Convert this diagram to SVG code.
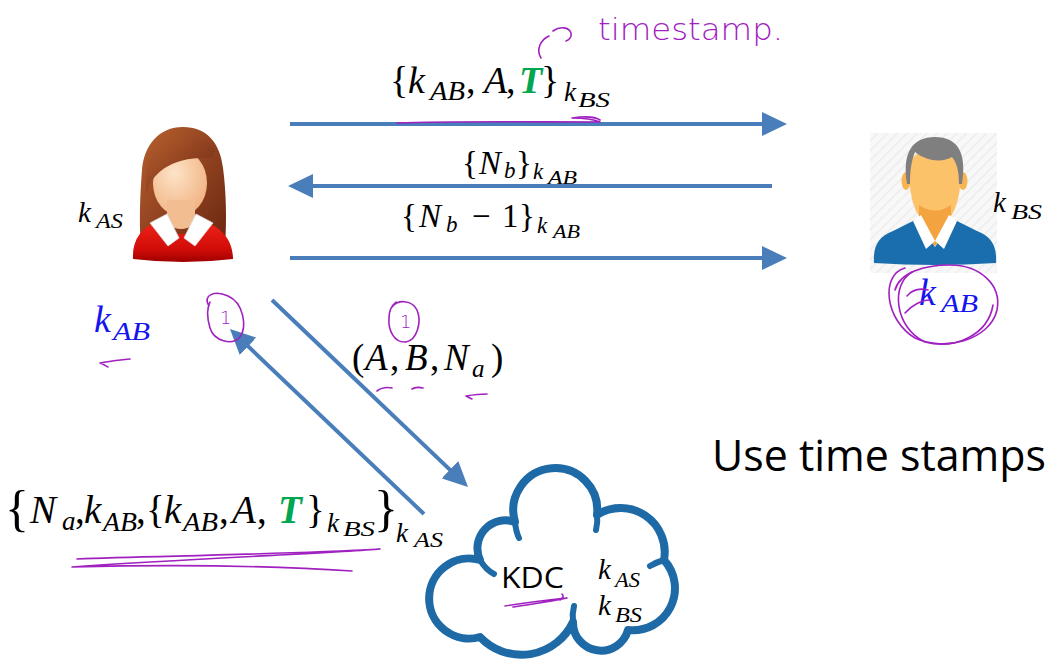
<svg xmlns="http://www.w3.org/2000/svg" width="1052" height="660" viewBox="0 0 1052 660">
  <style>
    .m { font-family: "Liberation Serif", "DejaVu Serif", serif; font-style: italic; fill: #000; }
    .r { font-style: normal; }
    .t { font-weight: bold; fill: #00a650; }
    .blue { fill: #1414f0; }
    .sans { font-family: "Open Sans", "Noto Sans", "Liberation Sans", sans-serif; fill: #000; }
    .flow { stroke: #4a7ebb; stroke-width: 4; fill: none; marker-end: url(#head); }
    .ink { stroke: #a020c0; stroke-width: 1.6; fill: none; stroke-linecap: round; stroke-linejoin: round; }
    .inktext { font-family: "DejaVu Sans", "Liberation Sans", sans-serif; font-weight: 200; fill: #a020c0; }
    .cloud { stroke: #1e6aa6; stroke-width: 8; fill: #fff; stroke-linejoin: round; }
    .curl { stroke: #1e6aa6; stroke-width: 6; fill: none; stroke-linecap: round; }
  </style>
  <defs>
    <marker id="head" viewBox="0 0 25 24" markerWidth="25" markerHeight="24" markerUnits="userSpaceOnUse" refX="15" refY="12" orient="auto">
      <path d="M0,0 L25,12 L0,24 Z" fill="#4a7ebb"/>
    </marker>
    <linearGradient id="hair" x1="0" y1="0" x2="1" y2="1">
      <stop offset="0" stop-color="#b8602f"/>
      <stop offset="1" stop-color="#6a2610"/>
    </linearGradient>
    <radialGradient id="skin" cx="0.4" cy="0.35" r="0.75">
      <stop offset="0" stop-color="#fde4c8"/>
      <stop offset="1" stop-color="#f0ae7c"/>
    </radialGradient>
    <linearGradient id="shirt" x1="0" y1="0" x2="0" y2="1">
      <stop offset="0" stop-color="#f0221a"/>
      <stop offset="0.7" stop-color="#d00c08"/>
      <stop offset="1" stop-color="#9e0000"/>
    </linearGradient>
    <pattern id="hatch" width="7" height="7" patternUnits="userSpaceOnUse" patternTransform="rotate(45)">
      <rect width="7" height="7" fill="#f8f8f8"/>
      <line x1="0" y1="0" x2="0" y2="7" stroke="#ececec" stroke-width="3"/>
    </pattern>
  </defs>

  <rect width="1052" height="660" fill="#fff"/>

  <!-- Alice -->
  <g id="alice">
    <path d="M183,127 C159,127 144,145 142,170 C140,195 139,225 141,246 L225,246 C227,220 226,190 223,168 C220,142 206,127 183,127 Z" fill="url(#hair)"/>
    <ellipse cx="180" cy="183" rx="27" ry="33" fill="url(#skin)"/>
    <path d="M167,200 L167,224 Q181,234 195,224 L195,200 Z" fill="#f3bd92"/>
    <path d="M146,196 C150,172 174,156 212,158 L215,150 C207,138 196,133 183,133 C162,133 148,150 146,175 Z" fill="url(#hair)"/>
    <path d="M133,259 C132,240 141,228 158,221 L176,234 L186,234 L204,221 C222,228 233,240 233,259 Q183,265 133,259 Z" fill="url(#shirt)"/>
    <path d="M150,223 L167,214 L179,238 L168,246 Z" fill="#fff" stroke="#ddd" stroke-width="0.8"/>
    <path d="M213,223 L196,214 L184,238 L195,246 Z" fill="#fff" stroke="#ddd" stroke-width="0.8"/>
  </g>

  <!-- Bob -->
  <g id="bob">
    <rect x="870" y="133" width="127" height="140" fill="url(#hatch)"/>
    <ellipse cx="906" cy="181" rx="4.5" ry="9" fill="#f6b552"/>
    <ellipse cx="963" cy="181" rx="4.5" ry="9" fill="#f6b552"/>
    <path d="M909,168 Q909,222 935,227 Q961,222 961,168 Q958,150 935,150 Q911,150 909,168 Z" fill="#fbc26a"/>
    <path d="M919,205 L919,233 L935,246 L951,233 L951,205 Q935,216 919,205 Z" fill="#f3a33f"/>
    <path d="M907,184 C902,153 912,137 935,137 C958,137 967,153 962,184 L959,184 C959,172 957,163 952,157 C942,163 926,161 915,152 C911,162 910,172 910,184 Z" fill="#7f7f7f"/>
    <path d="M874,263 C873,246 878,237 893,231 L915,220 L935,247 L955,220 L977,231 C992,237 997,246 996,263 Q935,267 874,263 Z" fill="#1a6eae"/>
    <path d="M913,221 L921,215 L935,241 L926,249 Z" fill="#fff"/>
    <path d="M957,221 L949,215 L935,241 L944,249 Z" fill="#fff"/>
  </g>

  <!-- KDC cloud -->
  <g id="kdc">
    <path class="cloud" d="M480,637 A40,40 0 1 1 480,560 A28,28 0 0 1 515,522 A42,42 0 1 1 597,515 A44,44 0 0 1 664,560 A42,42 0 0 1 628,630 A28,28 0 0 1 573,622 A57,57 0 0 1 480,637 Z"/>
    <path class="curl" d="M480,560 Q486,570 494,574"/>
    <path class="curl" d="M515,522 Q516,532 519,538"/>
    <path class="curl" d="M597,515 Q598,522 596,530"/>
    <path class="curl" d="M573,622 Q572,614 574,606"/>
    <path class="curl" d="M664,560 Q657,562 650,566"/>
    <text class="sans" x="501" y="588" font-size="29" textLength="63" lengthAdjust="spacingAndGlyphs">KDC</text>
    <text class="m" font-size="29"><tspan x="598" y="579">k</tspan><tspan x="615" y="587" font-size="21" textLength="25" lengthAdjust="spacingAndGlyphs">AS</tspan></text>
    <text class="m" font-size="29"><tspan x="598" y="615">k</tspan><tspan x="615" y="622" font-size="21" textLength="27" lengthAdjust="spacingAndGlyphs">BS</tspan></text>
  </g>

  <!-- message arrows -->
  <g id="connectors">
    <line class="flow" x1="290" y1="124" x2="777" y2="124"/>
    <line class="flow" x1="772" y1="186" x2="298" y2="186"/>
    <line class="flow" x1="290" y1="258" x2="777" y2="258"/>
    <line class="flow" x1="272" y1="300" x2="460.8" y2="480.1"/>
    <line class="flow" x1="424" y1="514" x2="237.2" y2="335.9"/>
  </g>

  <!-- key labels -->
  <g id="keys">
    <text class="m" font-size="29"><tspan x="78" y="222">k</tspan><tspan x="96" y="228" font-size="21" textLength="27" lengthAdjust="spacingAndGlyphs">AS</tspan></text>
    <text class="m" font-size="29"><tspan x="993" y="212">k</tspan><tspan x="1011" y="219" font-size="21" textLength="31" lengthAdjust="spacingAndGlyphs">BS</tspan></text>
    <text class="m blue" font-size="38"><tspan x="94" y="332">k</tspan><tspan x="113" y="340" font-size="26" textLength="37" lengthAdjust="spacingAndGlyphs">AB</tspan></text>
    <text class="m blue" font-size="38"><tspan x="919" y="305">k</tspan><tspan x="941" y="312" font-size="26" textLength="37" lengthAdjust="spacingAndGlyphs">AB</tspan></text>
  </g>

  <!-- message 1: {kAB, A, T}kBS -->
  <text id="msg-ticket" class="m" font-size="38"><tspan class="r" x="390" y="93">{</tspan><tspan x="408">k</tspan><tspan x="430" y="100" font-size="27" textLength="35" lengthAdjust="spacingAndGlyphs">AB</tspan><tspan class="r" x="466" y="93">,</tspan><tspan x="484">A</tspan><tspan class="r" x="506">,</tspan><tspan class="t" x="519">T</tspan><tspan class="r" x="541">}</tspan><tspan x="564" y="101" font-size="27">k</tspan><tspan x="578" y="107" font-size="20" textLength="32" lengthAdjust="spacingAndGlyphs">BS</tspan></text>

  <!-- message 2: {Nb}kAB -->
  <text id="msg-nonce" class="m" font-size="33"><tspan class="r" x="462" y="174">{</tspan><tspan x="479">N</tspan><tspan x="504" y="178" font-size="23">b</tspan><tspan class="r" x="516" y="174">}</tspan><tspan x="533" y="179" font-size="23">k</tspan><tspan x="548" y="184" font-size="18" textLength="29" lengthAdjust="spacingAndGlyphs">AB</tspan></text>

  <!-- message 3: {Nb - 1}kAB -->
  <text id="msg-reply" class="m" font-size="33"><tspan class="r" x="401" y="227">{</tspan><tspan x="419">N</tspan><tspan x="446" y="232" font-size="23">b</tspan><tspan class="r" x="472" y="227">−</tspan><tspan class="r" x="502">1</tspan><tspan class="r" x="519">}</tspan><tspan x="537" y="233" font-size="23">k</tspan><tspan x="553" y="238" font-size="18" textLength="27" lengthAdjust="spacingAndGlyphs">AB</tspan></text>

  <!-- request: (A, B, Na) -->
  <text id="msg-request" class="m" font-size="37"><tspan class="r" x="352" y="370">(</tspan><tspan x="365">A</tspan><tspan class="r" x="390">,</tspan><tspan x="405">B</tspan><tspan class="r" x="430">,</tspan><tspan x="444">N</tspan><tspan x="472" y="377" font-size="25">a</tspan><tspan class="r" x="491" y="370">)</tspan></text>

  <!-- KDC answer: {Na, kAB, {kAB, A, T}kBS}kAS -->
  <text id="msg-answer" class="m" font-size="39"><tspan class="r" x="5" y="525" font-size="50">{</tspan><tspan x="30" y="523">N</tspan><tspan x="62" y="530" font-size="27">a</tspan><tspan class="r" x="75" y="523">,</tspan><tspan x="84">k</tspan><tspan x="103" y="531" font-size="27" textLength="34" lengthAdjust="spacingAndGlyphs">AB</tspan><tspan class="r" x="136" y="523">,</tspan><tspan class="r" x="146">{</tspan><tspan x="164">k</tspan><tspan x="183" y="531" font-size="27" textLength="35" lengthAdjust="spacingAndGlyphs">AB</tspan><tspan class="r" x="219" y="523">,</tspan><tspan x="232">A</tspan><tspan class="r" x="257">,</tspan><tspan class="t" x="278">T</tspan><tspan class="r" x="306">}</tspan><tspan x="327" y="532" font-size="27">k</tspan><tspan x="343" y="536" font-size="20" textLength="32" lengthAdjust="spacingAndGlyphs">BS</tspan><tspan class="r" x="374" y="525" font-size="50">}</tspan><tspan x="396" y="542" font-size="27">k</tspan><tspan x="414" y="547" font-size="20" textLength="29" lengthAdjust="spacingAndGlyphs">AS</tspan></text>

  <text class="sans" x="712" y="471" font-size="43" textLength="334" lengthAdjust="spacingAndGlyphs">Use time stamps</text>

  <!-- pen annotations -->
  <g id="annotations">
    <text class="inktext" x="598" y="40" font-size="30" textLength="185" lengthAdjust="spacingAndGlyphs">timestamp.</text>
    <path class="ink" d="M541,58 C536,50 540,40 549,36 M553,31 C560,26 569,27 571,33 C572,37 569,40 566,41"/>
    <path class="ink" d="M397,123 C450,121 530,122 600,122 C590,118 580,118 572,118 C585,116 596,117 600,120"/>
    <path class="ink" d="M209,306 C202,295 215,290 228,296 C244,303 247,327 240,337 C232,346 214,341 210,328 C207,318 206,310 210,302"/>
    <text class="inktext" x="220" y="324" font-size="18">1</text>
    <path class="ink" d="M392,307 C398,299 412,300 417,310 C422,322 417,340 406,342 C394,343 388,330 389,318 C389,312 391,306 396,302"/>
    <text class="inktext" x="400" y="328" font-size="18">1</text>
    <path class="ink" d="M377,391 C381,388 387,387 392,388 M412,389 C415,387 419,387 423,388 M487,394 C480,394 472,395 466,396 C468,397 470,398 472,399"/>
    <path class="ink" d="M130,359 C122,360 110,361 100,363 C103,364 106,366 108,367"/>
    <path class="ink" d="M77,559 C150,556 270,555 380,549 C340,553 200,558 72,567 C150,565 260,565 352,571"/>
    <path class="ink" d="M505,606 C525,603 548,600 567,598 C550,602 530,604 513,607 M562,594 C564,596 563,598 560,600"/>
    <path class="ink" d="M905,268 C880,275 885,320 915,338 C945,352 990,340 997,310 C1002,285 980,265 950,265 C925,265 900,272 895,290"/>
    <path class="ink" d="M912,272 C890,285 895,328 925,342 C955,350 988,335 993,305"/>
    <path class="ink" d="M907,296 C912,290 920,288 928,290 M905,313 C912,305 922,300 930,300"/>
  </g>
</svg>
